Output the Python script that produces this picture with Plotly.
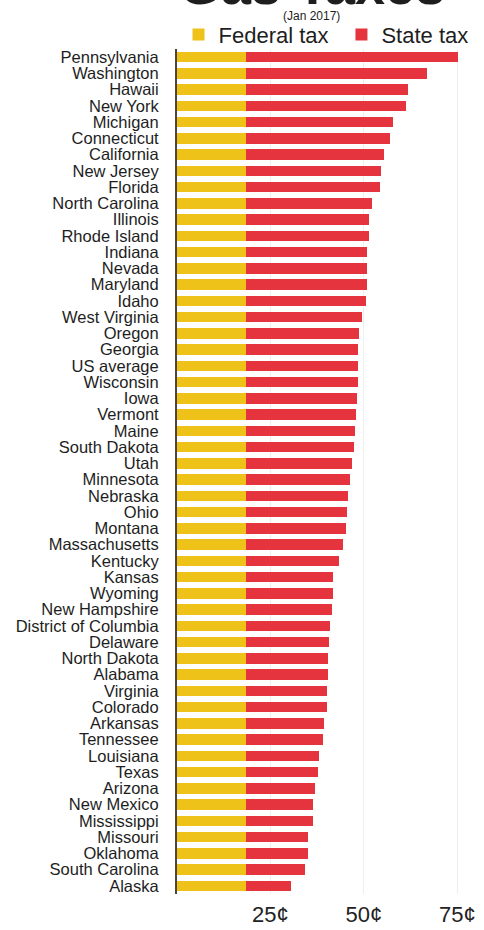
import plotly.graph_objects as go

states = ["Pennsylvania", "Washington", "Hawaii", "New York", "Michigan", "Connecticut",
          "California", "New Jersey", "Florida", "North Carolina", "Illinois", "Rhode Island",
          "Indiana", "Nevada", "Maryland", "Idaho", "West Virginia", "Oregon", "Georgia",
          "US average", "Wisconsin", "Iowa", "Vermont", "Maine", "South Dakota", "Utah",
          "Minnesota", "Nebraska", "Ohio", "Montana", "Massachusetts", "Kentucky", "Kansas",
          "Wyoming", "New Hampshire", "District of Columbia", "Delaware", "North Dakota",
          "Alabama", "Virginia", "Colorado", "Arkansas", "Tennessee", "Louisiana", "Texas",
          "Arizona", "New Mexico", "Mississippi", "Missouri", "Oklahoma", "South Carolina",
          "Alaska"]

federal_tax = [18.4] * len(states)

total_tax = [75.3, 66.8, 61.7, 61.4, 57.9, 57.1, 55.5, 54.7, 54.2, 52.3, 51.5, 51.4,
             50.9, 50.9, 50.8, 50.6, 49.6, 48.6, 48.5, 48.4, 48.3, 48.1, 47.9, 47.6,
             47.4, 46.9, 46.2, 45.8, 45.6, 45.3, 44.5, 43.4, 41.8, 41.7, 41.5, 41.0,
             40.6, 40.5, 40.4, 40.2, 40.0, 39.2, 39.0, 37.9, 37.8, 37.0, 36.5, 36.4,
             35.1, 35.0, 34.3, 30.4]

state_tax = [round(t - f, 2) for t, f in zip(total_tax, federal_tax)]

tick_vals = [25, 50, 75]
tick_text = ["25¢", "50¢", "75¢"]

FONT = "Liberation Sans, Arial, Helvetica, sans-serif"

fig = go.Figure()
fig.add_trace(go.Bar(
    y=states, x=federal_tax, orientation="h", name="Federal tax",
    marker=dict(color="#efc21a", line=dict(width=0)), legend="legend",
))
fig.add_trace(go.Bar(
    y=states, x=state_tax, orientation="h", name="State tax",
    marker=dict(color="#e6343f", line=dict(width=0)), legend="legend2",
))

legend_common = dict(orientation="h", xanchor="left", yanchor="bottom",
                     font=dict(size=22, color="#1e1e1e"), itemwidth=30,
                     bgcolor="rgba(0,0,0,0)")

fig.update_layout(
    width=484, height=930,
    barmode="stack", bargap=0.34,
    paper_bgcolor="white", plot_bgcolor="white",
    margin=dict(l=177, r=8, t=49, b=36, autoexpand=False),
    font=dict(family=FONT, color="#1e1e1e"),
    showlegend=True,
    legend=dict(x=0.005, y=0.992, **legend_common),
    legend2=dict(x=0.55, y=0.992, **legend_common),
    xaxis=dict(range=[0, 80], tickvals=tick_vals, ticktext=tick_text,
               tickfont=dict(size=22, color="#222"), showgrid=True,
               gridcolor="#eeeeee", gridwidth=1, zeroline=False,
               showline=False, ticks="", fixedrange=True, automargin=False,
               ticklabelstandoff=5),
    yaxis=dict(categoryorder="array", categoryarray=states, range=[51.5, -0.5],
               tickmode="linear", dtick=1,
               tickfont=dict(size=16.5, color="#1e1e1e"), showline=True,
               linecolor="#4d4538", linewidth=2, ticks="", showgrid=False,
               automargin=False, ticklabelstandoff=13),
    annotations=[
        dict(text="<b>Gas Taxes</b>", x=0.45, y=1.038, xref="paper", yref="paper",
             xanchor="center", yanchor="bottom", showarrow=False,
             font=dict(size=54, color="#1e1e1e")),
        dict(text="(Jan 2017)", x=0.45, y=1.039, xref="paper", yref="paper",
             xanchor="center", yanchor="middle", showarrow=False,
             font=dict(size=12, color="#1e1e1e")),
    ],
)

fig.write_html("out.html", config={"displayModeBar": False},
               post_script="document.body.style.margin='0';")
